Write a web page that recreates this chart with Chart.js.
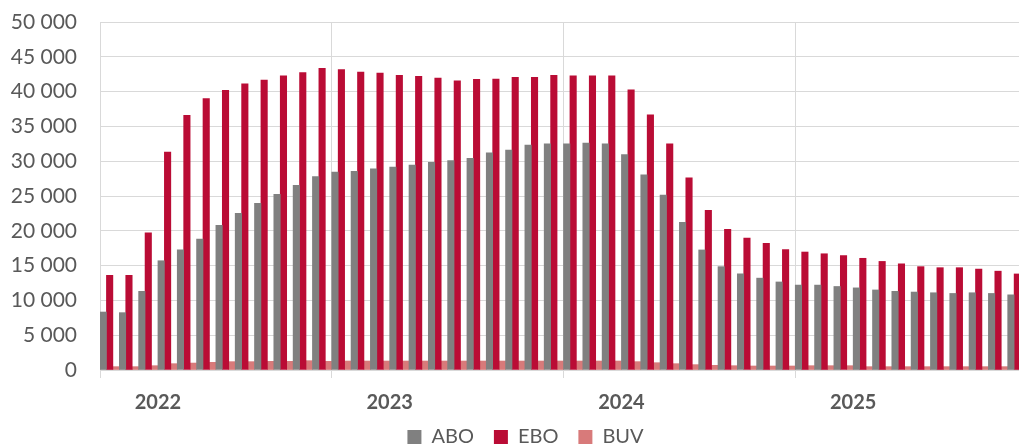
<!DOCTYPE html>
<html>
<head>
<meta charset="utf-8">
<script src="https://cdn.jsdelivr.net/npm/chart.js@4.4.0/dist/chart.umd.min.js"></script>
<style>
  html, body { margin: 0; padding: 0; overflow: hidden; background: #fff; }
  #wrap { width: 1040px; height: 448px; }
</style>
</head>
<body>
<div id="wrap"><canvas id="chart" width="1040" height="448"></canvas></div>
<script>
// years shown on the axis, one label per 12 months
const years = ['2022', '2023', '2024', '2025'];
const months = years.flatMap(y => Array.from({ length: 12 }, (_, m) => `${String(m + 1).padStart(2, '0')}/${y}`));

const abo = [8330, 8240, 11300, 15700, 17250, 18800, 20800, 22500, 23950, 25250, 26530, 27800,
  28450, 28550, 28900, 29150, 29450, 29850, 30100, 30400, 31200, 31600, 32300, 32500,
  32500, 32600, 32500, 30950, 28050, 25150, 21200, 17250, 14850, 13800, 13200, 12650,
  12200, 12200, 12000, 11800, 11500, 11300, 11200, 11100, 11000, 11100, 11000, 10800];

const ebo = [13600, 13600, 19700, 31300, 36600, 39000, 40200, 41100, 41650, 42250, 42750, 43350,
  43150, 42800, 42650, 42350, 42200, 41950, 41550, 41750, 41800, 42050, 42050, 42350,
  42250, 42250, 42250, 40250, 36650, 32500, 27600, 22950, 20200, 18950, 18200, 17300,
  16950, 16700, 16450, 16050, 15600, 15250, 14850, 14700, 14700, 14500, 14200, 13800];

const buv = [480, 480, 620, 910, 1000, 1100, 1200, 1200, 1250, 1250, 1340, 1250,
  1290, 1290, 1290, 1290, 1290, 1290, 1290, 1290, 1290, 1290, 1290, 1290,
  1290, 1290, 1290, 1200, 1050, 910, 770, 670, 620, 575, 575, 575,
  620, 620, 620, 480, 480, 480, 480, 480, 480, 480, 480, 480];

const yearLabelIndex = [3, 15, 27, 39];

const textColor = '#595959';
const gridColor = '#d9d9d9';
const fontFamily = 'Lato, "Open Sans", sans-serif';

const fmt = v => String(v).replace(/\B(?=(\d{3})+(?!\d))/g, ' ');

// legend sits lower and a bit right of where chart.js puts it
const legendTweak = {
  id: 'legendTweak',
  beforeLayout(chart) {
    const lg = chart.legend;
    if (lg && !lg._tweaked) {
      const fit = lg.fit;
      lg.fit = function () { fit.call(this); this.height = 37; };
      lg._tweaked = true;
    }
  },
  afterLayout(chart) {
    const lg = chart.legend;
    lg.left += 12;
    lg.right += 12;
    lg.top -= 4;
    lg.bottom -= 4;
  }
};

new Chart(document.getElementById('chart'), {
  type: 'bar',
  data: {
    labels: months,
    datasets: [
      { label: 'ABO', data: abo, backgroundColor: '#808080' },
      { label: 'EBO', data: ebo, backgroundColor: '#ba0c35' },
      { label: 'BUV', data: buv, backgroundColor: '#d87a7a' }
    ]
  },
  plugins: [legendTweak],
  options: {
    responsive: false,
    animation: false,
    devicePixelRatio: 1,
    datasets: { bar: { barPercentage: 1, categoryPercentage: 1 } },
    layout: { padding: { left: 0, right: 13, top: 22, bottom: 0 } },
    plugins: {
      tooltip: { enabled: false },
      legend: {
        position: 'bottom',
        labels: {
          boxWidth: 14,
          boxHeight: 14,
          padding: 20,
          color: textColor,
          font: { family: fontFamily, size: 20 }
        }
      }
    },
    scales: {
      x: {
        offset: true,
        grid: {
          offset: true,
          tickLength: 8,
          color: ctx => (ctx.index !== undefined && ctx.index % 12 === 0) ? gridColor : 'rgba(0,0,0,0)'
        },
        border: { display: true, color: gridColor },
        ticks: {
          autoSkip: false,
          maxRotation: 0,
          labelOffset: -9.65,
          padding: 13,
          color: textColor,
          font: { family: fontFamily, size: 20, weight: 'bold' },
          callback: (v, i) => {
            const k = yearLabelIndex.indexOf(i);
            return k >= 0 ? years[k] : '';
          }
        },
        afterFit: scale => { scale.height = 41; }
      },
      y: {
        min: 0,
        max: 50000,
        grid: { color: gridColor, drawTicks: true, tickLength: 23, tickColor: 'rgba(0,0,0,0)' },
        border: { display: true, color: gridColor },
        ticks: {
          stepSize: 5000,
          padding: 0,
          color: textColor,
          font: { family: fontFamily, size: 21 },
          callback: v => fmt(v)
        },
        afterFit: scale => { scale.width = 100; }
      }
    }
  }
});
</script>
</body>
</html>
